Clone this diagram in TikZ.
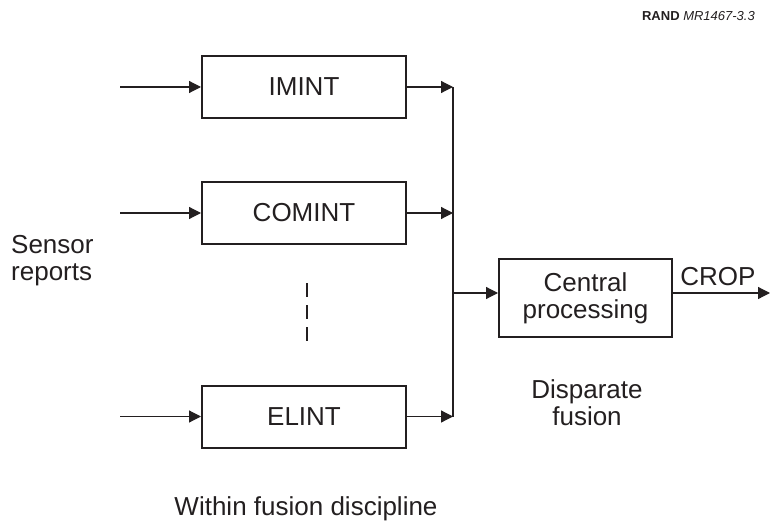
\documentclass[tikz,border=0pt]{standalone}
\usepackage{fontspec}
\setmainfont{Liberation Sans}
\usetikzlibrary{arrows.meta}
\definecolor{ink}{HTML}{231F20}
\begin{document}
\begin{tikzpicture}[x=1pt,y=-1pt, every node/.style={text=ink},
  txt/.style={font=\fontsize{26}{27}\selectfont, inner sep=0pt},
  box/.style={draw=ink, line width=2pt, minimum width=204pt, minimum height=62pt, font=\fontsize{26}{27}\selectfont, inner sep=0pt},
  conn/.style={draw=ink, line width=1.2pt, -{Triangle[length=12pt,width=12pt]}},
  plain/.style={draw=ink, line width=1.2pt}]
\useasboundingbox (0,0) rectangle (770,521);
% boxes
\node[box] (imint) at (304,87) {IMINT};
\node[box] (comint) at (304,213) {COMINT};
\node[box] (elint) at (304,416.5) {ELINT};
\node[box, minimum width=173pt, minimum height=78pt, align=center] (central) at (585.5,298) {Central\\processing};
% input free ends
\coordinate (in1) at (120,87);
\coordinate (in2) at (120,213);
\coordinate (in3) at (120,416.5);
\draw[conn] (in1) -- (imint.west);
\draw[conn] (in2) -- (comint.west);
\draw[conn] (in3) -- (elint.west);
% bus
\coordinate (busT) at (453,87);
\coordinate (busB) at (453,416.5);
\coordinate (busM) at (453,293);
\draw[plain] (busT) -- (busB);
\draw[conn] (imint.east) -- (busT);
\draw[conn] (comint.east) -- (comint.east -| busT);
\draw[conn] (elint.east) -- (busB);
\draw[conn] (busM) -- (busM -| central.west);
% output
\coordinate (out) at (770,293);
\draw[conn] (busM -| central.east) -- (out);
\node[txt, anchor=base] (crop) at (718,285) {CROP};
% dashed
\coordinate (d1) at (307,283);
\coordinate (d2) at (307,342);
\draw[draw=ink, line width=2pt, dash pattern=on 14pt off 8pt] (d1) -- (d2);
% labels
\node[txt, anchor=base west, align=left] (sensor) at (11,280) {Sensor\\reports};
\node[txt, anchor=base, align=center] (disp) at (587,425) {Disparate\\fusion};
\node[txt, anchor=base] (within) at (306,515) {Within fusion discipline};
\node[anchor=base east, inner sep=0pt, font=\fontsize{13}{14}\selectfont] (rand) at (755,21) {\textbf{RAND} \textit{MR1467-3.3}};
\end{tikzpicture}
\end{document}
